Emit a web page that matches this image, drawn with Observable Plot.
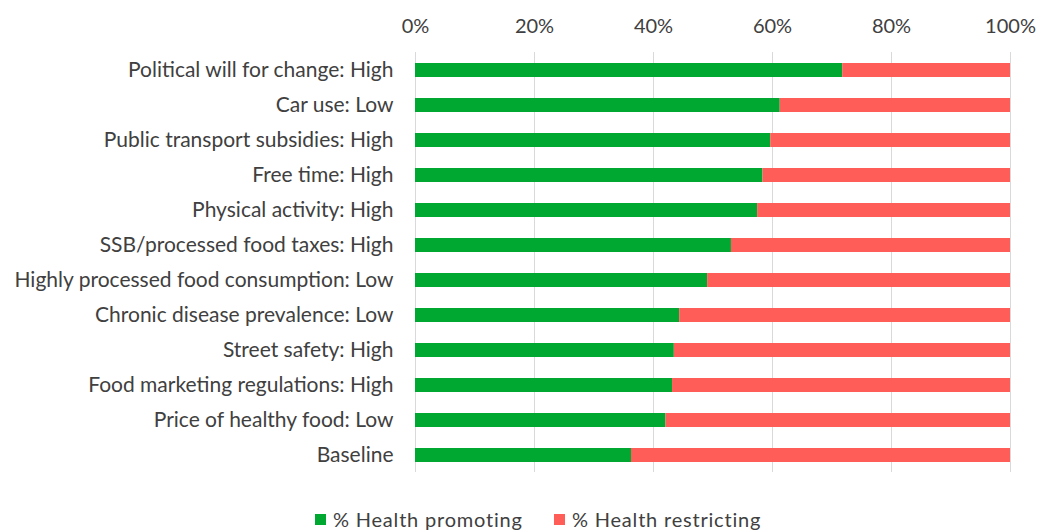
<!DOCTYPE html>
<html>
<head>
<meta charset="utf-8">
<script src="https://cdn.jsdelivr.net/npm/d3@7"></script>
<script src="https://cdn.jsdelivr.net/npm/@observablehq/plot@0.6"></script>
<style>
  html, body { margin: 0; padding: 0; background: #fff; }
  #wrap { position: relative; width: 1037px; height: 531px; font-family: Lato, "Open Sans", sans-serif; }
  .item { position: absolute; top: 507px; display: flex; align-items: center; gap: 7px; font-size: 20px; line-height: 24px; letter-spacing: 0.8px; color: #404040; white-space: nowrap; }
  .sw { width: 11px; height: 11px; display: inline-block; }
  #chart svg g[aria-label="y-axis tick label"] text { font-size: 21px; }
  #chart svg g[aria-label="x-axis tick label"] text { font-size: 20px; }
</style>
</head>
<body>
<div id="wrap">
  <div id="chart"></div>
  <div id="legend"></div>
</div>
<script>
const categories = [
  "Political will for change: High",
  "Car use: Low",
  "Public transport subsidies: High",
  "Free time: High",
  "Physical activity: High",
  "SSB/processed food taxes: High",
  "Highly processed food consumption: Low",
  "Chronic disease prevalence: Low",
  "Street safety: High",
  "Food marketing regulations: High",
  "Price of healthy food: Low",
  "Baseline"
];
const promoting = [71.8, 61.3, 59.7, 58.4, 57.5, 53.1, 49.1, 44.4, 43.5, 43.2, 42.1, 36.3];
const restricting = promoting.map(v => 100 - v);
const seriesNames = ["% Health promoting", "% Health restricting"];
const seriesColors = ["#00a832", "#ff5e58"];
const xTicks = [0, 20, 40, 60, 80, 100];

const rows = [];
categories.forEach((c, i) => {
  rows.push({category: c, series: seriesNames[0], value: promoting[i]});
  rows.push({category: c, series: seriesNames[1], value: restricting[i]});
});

const chart = Plot.plot({
  width: 1037,
  height: 490,
  marginTop: 52,
  marginBottom: 18,
  marginLeft: 415,
  marginRight: 27,
  style: {fontFamily: "Lato, 'Open Sans', sans-serif", fontSize: "20px", color: "#404040", background: "#fff"},
  x: {domain: [0, 100], ticks: xTicks, tickFormat: d => d + "%", axis: "top", label: null, tickSize: 0, tickPadding: 20},
  y: {domain: categories, label: null, tickSize: 0, tickPadding: 22, paddingInner: 0.6, paddingOuter: 0.3},
  color: {domain: seriesNames, range: seriesColors},
  marks: [
    Plot.ruleX(xTicks, {x: d => d, stroke: "#d9d9d9", strokeWidth: 1}),
    Plot.barX(rows, Plot.stackX({y: "category", x: "value", fill: "series", order: seriesNames}))
  ]
});
document.getElementById("chart").appendChild(chart);

const legend = document.getElementById("legend");
const legendLeft = [315, 554];
seriesNames.forEach((n, i) => {
  const it = document.createElement("div");
  it.className = "item";
  it.style.left = legendLeft[i] + "px";
  const sw = document.createElement("span");
  sw.className = "sw";
  sw.style.background = seriesColors[i];
  const t = document.createElement("span");
  t.textContent = n;
  it.appendChild(sw); it.appendChild(t);
  legend.appendChild(it);
});
</script>
</body>
</html>
